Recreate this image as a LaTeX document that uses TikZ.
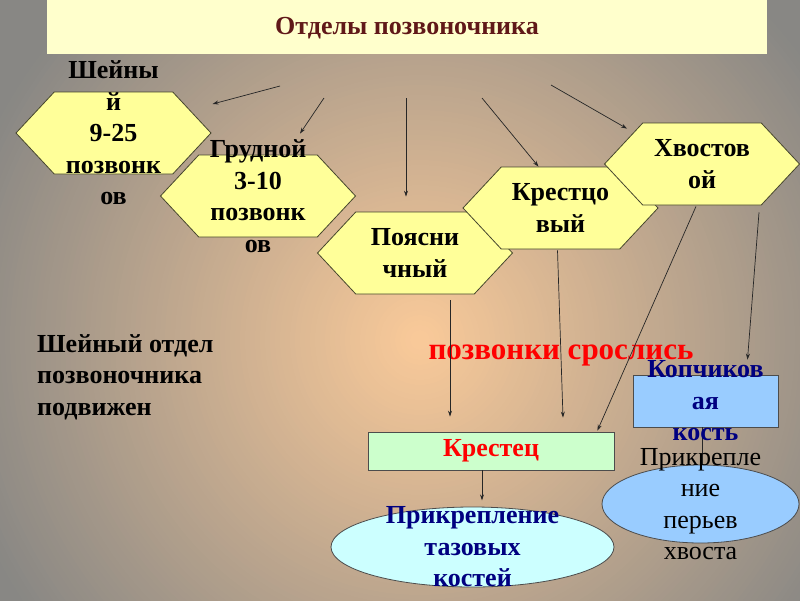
\documentclass[tikz,border=0pt]{standalone}
\usepackage{fontspec}
\setmainfont{Liberation Serif}
\usetikzlibrary{calc,shapes.geometric,shapes.symbols,arrows.meta}

\definecolor{peach}{RGB}{248,201,153}
\definecolor{slate}{RGB}{136,135,132}
\definecolor{hexfill}{RGB}{255,255,153}
\definecolor{titlefill}{RGB}{255,255,204}
\definecolor{titletext}{RGB}{96,24,24}
\definecolor{greenfill}{RGB}{204,255,204}
\definecolor{bluefill}{RGB}{153,204,255}
\definecolor{cyanfill}{RGB}{204,255,255}
\definecolor{navy}{RGB}{0,0,128}
\definecolor{edge}{RGB}{70,70,45}

\tikzset{
  hexa/.style={signal, signal to=east and west, signal pointer angle=94,
    draw=edge, fill=hexfill, line width=0.8pt,
    minimum width=195pt, minimum height=82pt, inner sep=0pt},
  big/.style={font=\fontsize{26}{31.5}\selectfont\bfseries, align=center, inner sep=0pt},
  plain/.style={font=\fontsize{26}{31.5}\selectfont, align=center, inner sep=0pt},
  arr/.style={-{Stealth[length=6pt,width=4pt]}, line width=0.7pt, draw=black!85},
  link/.style={line width=0.7pt, draw=black!85},
}

\begin{document}
\begin{tikzpicture}[x=1pt, y=-1pt]

% Background
\useasboundingbox (0,0) rectangle (800,600);
\begin{scope}
  \clip (0,0) rectangle (800,600);
  \foreach \k in {0,...,111}{
    \pgfmathsetmacro\rad{560-5*\k}
    \pgfmathsetmacro\mix{max(0,min(100,(480-\rad)/4.7))}
    \fill[peach!\mix!slate] (420,340) circle (\rad);
  }
\end{scope}

% Title
\node[fill=titlefill, minimum width=720pt, minimum height=54pt, inner sep=0pt,
  anchor=north west] (title) at (47,0) {};
\node[big, text=titletext] (titleT) at (407,28) {Отделы позвоночника};

% Sections of the spine
\node[hexa] (cerv) at (113.5,133) {};
\node[big] (cervT) at (cerv) {Шейны\\й\\9-25\\позвонк\\ов};

\node[hexa] (thor) at (258,196) {};
\node[big] (thorT) at (thor) {Грудной\\3-10\\позвонк\\ов};

\node[hexa] (lumb) at (415,253) {};
\node[big] (lumbT) at (lumb) {Поясни\\чный};

\node[hexa] (sacr) at (560.5,208) {};
\node[big] (sacrT) at (sacr) {Крестцо\\вый};

\node[hexa] (caud) at (702,164) {};
\node[big] (caudT) at (caud) {Хвостов\\ой};

% Arrows from the title
\coordinate (src1) at (280,86);
\coordinate (src2) at (324,98);
\coordinate (src3) at (406,98);
\coordinate (src4) at (482,98);
\coordinate (src5) at (551,85);

\draw[arr] (src1) -- ($(cerv.east)+(1,-29)$);
\draw[arr] (src2) -- ($(thor.north)+(42,-21)$);
\draw[arr] (src3) -- ($(lumb.north)+(-9,-15)$);
\draw[arr] (src4) -- ($(sacr.north)+(-22,0)$);
\draw[arr] (src5) -- ($(caud.north)+(-75,6)$);

% Notes
\node[big, align=left, anchor=west] (note) at (37,377)
  {Шейный отдел\\позвоночника\\подвижен};
\node[font=\fontsize{31}{34}\selectfont\bfseries, text=red, inner sep=0pt]
  (fused) at (561,355) {позвонки срослись};

% Fused bones
\node[draw=black!70, fill=greenfill, line width=0.8pt, minimum width=246pt,
  minimum height=38pt, inner sep=0pt, big, text=red] (sacrum) at (491,451) {Крестец};

\node[draw=black!70, fill=bluefill, line width=0.8pt, minimum width=145pt,
  minimum height=52pt, inner sep=0pt] (coccyx) at (705.5,401) {};

\draw[arr] ($(lumb.south)+(35,6)$) -- ($(sacrum.north)+(-41,-15)$);
\draw[arr] ($(sacr.south)+(-3,1)$) -- ($(sacrum.north)+(72,-14)$);
\draw[arr] ($(caud.south)+(-6,1)$) -- ($(sacrum.north east)+(-17,-1)$);
\draw[arr] ($(caud.south)+(57,7)$) -- ($(coccyx.north)+(42,-15)$);

% Attachments
\draw[arr] ($(sacrum.south)+(-9,0)$) -- ($(sacrum.south)+(-9,30)$);
\node[ellipse, draw=black!70, fill=cyanfill, line width=0.8pt, minimum width=283pt,
  minimum height=80pt, inner sep=0pt] (pelvis) at (472.5,547) {};
\node[big, text=navy] (pelvisT) at (pelvis) {Прикрепление\\тазовых\\костей};

\draw[link] ($(coccyx.south)+(-3,0)$) -- ($(coccyx.south)+(-3,38)$);
\node[ellipse, draw=black!70, fill=bluefill, line width=0.8pt, minimum width=197pt,
  minimum height=78pt, inner sep=0pt] (feath) at (700.5,504) {};
\node[plain] (feathT) at (feath) {Прикрепле\\ние\\перьев\\хвоста};
\node[big, text=navy] (coccyxT) at (coccyx) {Копчиков\\ая\\кость};

\end{tikzpicture}
\end{document}
